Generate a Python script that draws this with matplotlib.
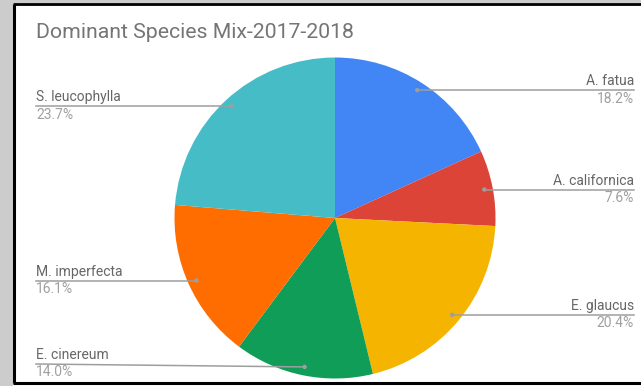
import matplotlib
matplotlib.use("Agg")
import matplotlib.pyplot as plt
import numpy as np

title = "Dominant Species Mix-2017-2018"
species = ["A. fatua", "A. californica", "E. glaucus", "E. cinereum",
           "M. imperfecta", "S. leucophylla"]
shares = [18.2, 7.6, 20.4, 14.0, 16.1, 23.7]
colors = ["#4285F4", "#DB4437", "#F4B400", "#0F9D58", "#FF6D01", "#46BDC6"]

W, H = 641, 386
fig = plt.figure(figsize=(W / 100, H / 100), dpi=100)
fig.patch.set_facecolor("white")
ax = fig.add_axes([0, 0, 1, 1])


def py(y):
    """Convert a top-down pixel row to the axes' bottom-up coordinate."""
    return H - y


# Pie
cx, cy, r = 335, py(218), 160.5
wedges, _ = ax.pie(shares, colors=colors, startangle=90, counterclock=False,
                   center=(cx, cy), radius=r, frame=True,
                   wedgeprops=dict(linewidth=0))
ax.set_xlim(0, W)
ax.set_ylim(0, H)
ax.set_aspect("equal")
ax.axis("off")

# Frame: grey margin on the left/top, black border around the chart area
ax.add_patch(plt.Rectangle((0, 0), 13, H, color="#cccccc", lw=0, zorder=0))
ax.add_patch(plt.Rectangle((0, py(2.5)), W, 2.5, color="#cccccc", lw=0, zorder=0))
ax.plot([14, 14], [py(3.5), py(383)], color="black", lw=2.2, solid_capstyle="butt", zorder=5)
ax.plot([13, W], [py(4), py(4)], color="black", lw=2.0, solid_capstyle="butt", zorder=5)
ax.plot([13, W], [py(382.5), py(382.5)], color="black", lw=2.2, solid_capstyle="butt", zorder=5)

ax.text(36, py(33), title, fontsize=15.3, color="#757575", family="Roboto",
        va="center", ha="left")

name_color = "#666666"
pct_color = "#a0a0a0"
line_color = "#9e9e9e"
left_x, right_x = 36, 634
lowest_line = py(364)

for w, name, val in zip(wedges, species, shares):
    mid = np.deg2rad((w.theta1 + w.theta2) / 2)
    dx, dy = np.cos(mid), np.sin(mid)
    px_, py_ = cx + 0.947 * r * dx, cy + 0.947 * r * dy
    ly = max(py_, lowest_line)
    ax.add_patch(plt.Circle((px_, py_), 2.2, color=line_color, lw=0, zorder=6))
    if dx >= 0:
        ax.plot([px_, right_x], [py_, ly], color=line_color, lw=1.1, zorder=6)
        tx, ha = right_x, "right"
    else:
        ax.plot([left_x, px_], [ly, py_], color=line_color, lw=1.1, zorder=6)
        tx, ha = left_x, "left"
    ax.text(tx, ly + 2.0, name, fontsize=10.0, color=name_color, family="Roboto",
            ha=ha, va="bottom")
    ax.text(tx, ly - 1.5, f"{val:.1f}%", fontsize=10.0, color=pct_color,
            family="Roboto", ha=ha, va="top")

fig.savefig("out.png", dpi=100)
